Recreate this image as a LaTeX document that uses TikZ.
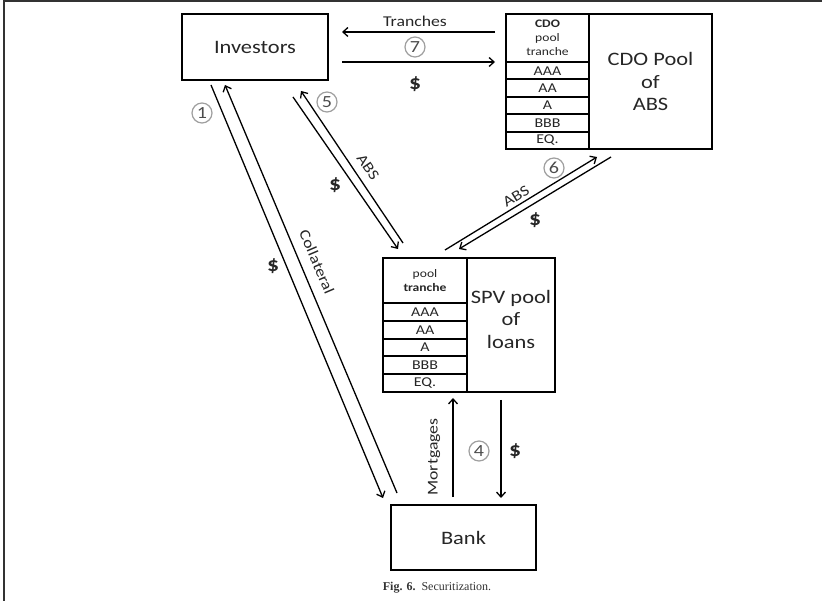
\documentclass[tikz,border=0pt]{standalone}
\usepackage{fontspec}
\setmainfont{Carlito}[FakeStretch=1.18]
\newfontfamily\capfont{Liberation Serif}
\usetikzlibrary{arrows.meta}
\begin{document}
\begin{tikzpicture}[x=1pt,y=-1pt,
  box/.style={draw, line width=2pt, inner sep=0pt, text=black!85},
  flow/.style={line width=1.3pt, -{Straight Barb[length=5pt,width=9pt,line width=1.3pt]}},
  big/.style={font=\fontsize{19}{22.5}\selectfont, align=center, text=black!85},
  lab/.style={font=\fontsize{15}{16}\selectfont, text=black!85, inner sep=0pt},
  hdr/.style={font=\fontsize{11.5}{14}\selectfont, align=center},
  rate/.style={font=\fontsize{13.5}{14}\selectfont},
  dollar/.style={font=\fontsize{20}{20}\selectfont\bfseries, text=black!85, inner sep=0pt},
  num/.style={circle, draw=gray!75, line width=1.2pt, text=black!70, inner sep=0pt, minimum size=20pt, font=\fontsize{17}{17}\selectfont}
]
\useasboundingbox (0,0) rectangle (822,601);
% frame
\draw[line width=1.6pt, black!80] (4,601) -- (4,1) -- (822,1);

% Investors
\node[box, big, minimum width=146pt, minimum height=66pt] (inv) at (255,47) {Investors};
% Bank
\node[box, big, minimum width=145pt, minimum height=65pt] (bank) at (463.5,537.5) {Bank};

% CDO table
\node[box, hdr, minimum width=83pt, minimum height=48pt] (cdoH) at (547.5,38) {\textbf{CDO}\\pool\\tranche};
\node[box, rate, minimum width=83pt, minimum height=17.4pt] (cdo1) at (547.5,70.7) {AAA};
\node[box, rate, minimum width=83pt, minimum height=17.4pt] (cdo2) at (547.5,88.1) {AA};
\node[box, rate, minimum width=83pt, minimum height=17.4pt] (cdo3) at (547.5,105.5) {A};
\node[box, rate, minimum width=83pt, minimum height=17.4pt] (cdo4) at (547.5,122.9) {BBB};
\node[box, rate, minimum width=83pt, minimum height=17.4pt] (cdo5) at (547.5,140.3) {EQ.};
\node[box, big, minimum width=123pt, minimum height=135pt] (cdoR) at (650.5,81.5) {CDO Pool\\of\\ABS};

% SPV table
\node[box, hdr, minimum width=84pt, minimum height=45pt] (spvH) at (425,280.5) {pool\\\textbf{tranche}};
\node[box, rate, minimum width=84pt, minimum height=17.8pt] (spv1) at (425,311.9) {AAA};
\node[box, rate, minimum width=84pt, minimum height=17.8pt] (spv2) at (425,329.7) {AA};
\node[box, rate, minimum width=84pt, minimum height=17.8pt] (spv3) at (425,347.5) {A};
\node[box, rate, minimum width=84pt, minimum height=17.8pt] (spv4) at (425,365.3) {BBB};
\node[box, rate, minimum width=84pt, minimum height=17.8pt] (spv5) at (425,383.1) {EQ.};
\node[box, minimum width=88pt, minimum height=134pt] (spvR) at (511,325) {};
\node[big, inner sep=0pt] (spvT) at (511,319) {SPV pool\\of\\loans};

% arrow end points
\coordinate (t1) at (495,32);  \coordinate (t2) at (342,32);
\coordinate (d1) at (342,62);  \coordinate (d2) at (495,62);
\coordinate (a1) at (211,85);  \coordinate (a2) at (383,498);
\coordinate (b1) at (397,493); \coordinate (b2) at (225,85);
\coordinate (e1) at (293,97);  \coordinate (e2) at (398,249);
\coordinate (f1) at (403,243); \coordinate (f2) at (301,91);
\coordinate (g1) at (445,250); \coordinate (g2) at (597,157);
\coordinate (h1) at (611,157); \coordinate (h2) at (459,249);
\coordinate (m1) at (453,497); \coordinate (m2) at (453,398);
\coordinate (p1) at (501,400); \coordinate (p2) at (501,498);

\draw[flow] (t1) -- (t2);
\draw[flow] (d1) -- (d2);
\draw[flow] (a1) -- (a2);
\draw[flow] (b1) -- (b2);
\draw[flow] (e1) -- (e2);
\draw[flow] (f1) -- (f2);
\draw[flow] (g1) -- (g2);
\draw[flow] (h1) -- (h2);
\draw[flow] (m1) -- (m2);
\draw[flow] (p1) -- (p2);

% labels
\node[lab] (lTr) at (415,21) {Tranches};
\node[num] (n7) at (415,47) {7};
\node[dollar] (s7) at (415,84) {\$};

\node[num] (n1) at (202,113) {1};
\node[lab, rotate=-67] (lCol) at (317,262) {Collateral};
\node[dollar] (s1) at (273,266) {\$};

\node[num] (n5) at (327,102) {5};
\node[lab, rotate=-56] (lAbs1) at (368,167) {ABS};
\node[dollar] (s5) at (335,185) {\$};

\node[num] (n6) at (554,168) {6};
\node[lab, rotate=31.5] (lAbs2) at (516,196) {ABS};
\node[dollar] (s6) at (535,220) {\$};

\node[lab, rotate=90] (lMort) at (434,457) {Mortgages};
\node[num] (n4) at (479,451) {4};
\node[dollar] (s4) at (515,451) {\$};

% caption
\node[font=\capfont\fontsize{12}{13}\selectfont, text=black!80] (cap) at (437,588) {\textbf{Fig. 6.}\ \ Securitization.};
\end{tikzpicture}
\end{document}
